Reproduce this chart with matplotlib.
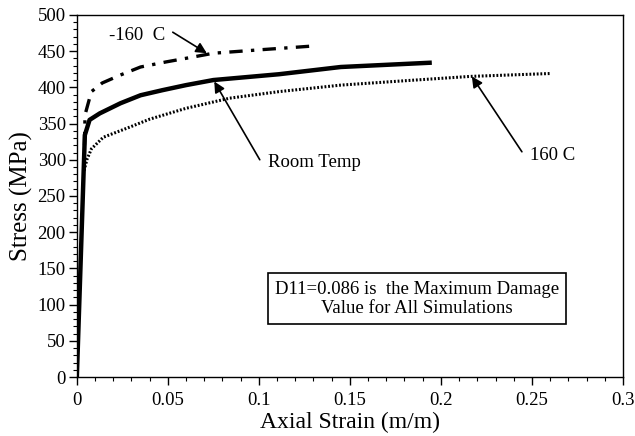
import matplotlib.pyplot as plt
from matplotlib.ticker import MultipleLocator

plt.rcParams['font.family'] = ['Liberation Serif', 'DejaVu Serif']

# strain (m/m) and stress (MPa)
room_strain = [0.0, 0.0044, 0.007, 0.0126, 0.024, 0.035, 0.047, 0.06, 0.075, 0.111, 0.145, 0.195]
room_stress = [0, 334, 355, 364, 378, 389, 396, 403, 410, 418, 428, 434]

cold_strain = [0.0042, 0.0045, 0.008, 0.014, 0.024, 0.035, 0.049, 0.06, 0.075, 0.102, 0.13]
cold_stress = [320, 362, 394, 406, 417, 428, 435, 440, 447, 452, 457]

hot_strain = [0.004, 0.0055, 0.008, 0.0145, 0.029, 0.04, 0.06, 0.084, 0.111, 0.145, 0.18, 0.216, 0.26]
hot_stress = [285, 300, 315, 331, 345, 356, 371, 385, 394, 403, 409, 415, 419]

fig = plt.figure(figsize=(6.35, 4.36), dpi=100)
ax = fig.add_axes([0.121, 0.135, 0.86, 0.831])

ax.plot(hot_strain, hot_stress, color='black', lw=2.2, linestyle=(0, (0.6, 0.6)))
ax.plot(cold_strain, cold_stress, color='black', lw=2.4, linestyle=(0, (4, 2.5, 1, 2.5)))
ax.plot(room_strain, room_stress, color='black', lw=3.2, solid_capstyle='butt')

ax.set_xlim(0, 0.3)
ax.set_ylim(0, 500)
ax.xaxis.set_major_locator(MultipleLocator(0.05))
ax.xaxis.set_minor_locator(MultipleLocator(0.01))
ax.yaxis.set_major_locator(MultipleLocator(50))
ax.yaxis.set_minor_locator(MultipleLocator(10))
ax.set_xticks([0, 0.05, 0.1, 0.15, 0.2, 0.25, 0.3])
ax.set_xticklabels(['0', '0.05', '0.1', '0.15', '0.2', '0.25', '0.3'])
ax.tick_params(which='major', direction='out', length=6, width=1, labelsize=13.5)
ax.tick_params(axis='x', which='major', pad=5)
ax.tick_params(axis='y', which='major', pad=2)
ax.tick_params(which='minor', direction='out', length=3, width=0.8)
for s in ax.spines.values():
    s.set_linewidth(1)

ax.set_xlabel('Axial Strain (m/m)', fontsize=17, labelpad=2)
ax.set_ylabel('Stress (MPa)', fontsize=18, labelpad=3)

# arrows (tail -> head) drawn apart from the labels
arrow = dict(arrowstyle='-|>', color='black', lw=1.2, mutation_scale=16,
             shrinkA=0, shrinkB=0)
ax.annotate('', xy=(0.0714, 447), xytext=(0.0527, 476), arrowprops=arrow)
ax.annotate('', xy=(0.0755, 408), xytext=(0.1005, 300), arrowprops=arrow)
ax.annotate('', xy=(0.217, 415), xytext=(0.2445, 311), arrowprops=arrow)

ax.text(0.033, 471, '-160  C', fontsize=13.5, ha='center', va='center')
ax.text(0.105, 296, 'Room Temp', fontsize=13.5, ha='left', va='center')
ax.text(0.249, 306, '160 C', fontsize=13.5, ha='left', va='center')

ax.text(0.187, 108, 'D11=0.086 is  the Maximum Damage\nValue for All Simulations',
        fontsize=13.5, ha='center', va='center', linespacing=1.2,
        bbox=dict(boxstyle='square,pad=0.38', fc='white', ec='black', lw=1.2))

fig.savefig('out.png', dpi=100)
